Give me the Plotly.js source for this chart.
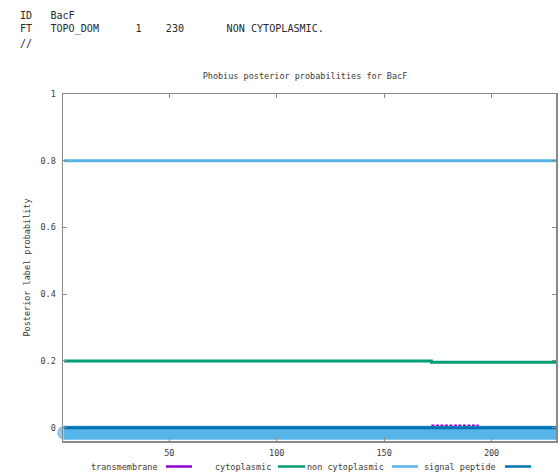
<!DOCTYPE html>
<html><head><meta charset="utf-8">
<script src="https://cdn.plot.ly/plotly-3.0.1.min.js"></script>
<style>html,body{margin:0;padding:0;background:#fff}#chart{width:559px;height:475px}</style>
</head><body><div id="chart"></div>
<script>
// ---- data ----
const seqName = "BacF";
const headerLines = [
  "ID   BacF",
  "FT   TOPO_DOM      1    230       NON CYTOPLASMIC.",
  "//"
];
const residueStart = 1, residueEnd = 230;
const tmX = [172, 194];          const tmY = [0.007, 0.007];
const cytoX = [1, 172, 230];     const cytoY = [0.2, 0.196, 0.196];
const nonCytoX = [1, 230];       const nonCytoY = [0.8, 0.8];
const sigX = [1, 230];           const sigY = [0, 0];
const topoX = [1, 230];          const topoY = [-0.015, -0.015];
const legendNames = ["transmembrane", "cytoplasmic", "non cytoplasmic", "signal peptide"];
const yTickVals = [0, 0.2, 0.4, 0.6, 0.8, 1];
const xTickVals = [50, 100, 150, 200];

// ---- styles ----
const C = {tm:"#9400d3", cyto:"#009e73", nc:"#56b4e9", sig:"#0072b2"};
const MONO = "DejaVu Sans Mono";
const axisCol = "#8a8a8a", txtCol = "#3a3a3a";

// plot area in px
const L = 63, R = 556, T = 94, B = 441;
const px = x => (x - L) / (R - L);
const py = y => (B - y) / (B - T);

const traces = [
  {x: nonCytoX, y: nonCytoY, mode: "lines", line: {color: C.nc, width: 3}, name: legendNames[2], showlegend: false},
  {x: cytoX, y: cytoY, mode: "lines", line: {color: C.cyto, width: 3, shape: "hv"}, name: legendNames[1], showlegend: false},
  {x: topoX, y: topoY, mode: "lines+markers", cliponaxis: false,
   marker: {size: [14, 0], color: C.nc, line: {width: 0}},
   line: {color: C.nc, width: 14}, name: "topology", showlegend: false, hoverinfo: "skip"},
  {x: sigX, y: sigY, mode: "lines", line: {color: C.sig, width: 3}, name: legendNames[3], showlegend: false},
  {x: tmX, y: tmY, mode: "lines", line: {color: C.tm, width: 1.5, dash: "3px,1.5px"}, name: legendNames[0], showlegend: false}
];

// header + legend annotations
const ann = [];
headerLines.forEach((s, i) => {
  ann.push({xref: "paper", yref: "paper", x: px(18), y: py(15 + i * 14), xanchor: "left", yanchor: "middle",
    text: s.replace(/ /g, "\u00a0"), showarrow: false, font: {family: MONO, size: 10.1, color: "#2a2a2a"}});
});
const legTextEnd = [160, 273, 386, 498];
const legLine = [[166, 192], [278, 305], [392, 418], [505, 531]];
const legCols = [C.tm, C.cyto, C.nc, C.sig];
const legY = 466.5;
const shapes = [];
legendNames.forEach((n, i) => {
  ann.push({xref: "paper", yref: "paper", x: px(legTextEnd[i]), y: py(legY), xanchor: "right", yanchor: "middle",
    text: n, showarrow: false, font: {family: MONO, size: 8.5, color: txtCol}});
  shapes.push({type: "line", xref: "paper", yref: "paper", x0: px(legLine[i][0]), x1: px(legLine[i][1]),
    y0: py(legY), y1: py(legY), line: {color: legCols[i], width: 2.5}});
});

const layout = {
  width: 559, height: 475,
  margin: {l: L, r: 559 - R, t: T, b: 475 - B, pad: 0},
  paper_bgcolor: "#fff", plot_bgcolor: "#fff",
  showlegend: false,
  title: {text: "Phobius posterior probabilities for " + seqName, xref: "paper", x: px(305), xanchor: "center",
    yref: "container", y: 1 - 76 / 475, yanchor: "middle", font: {family: MONO, size: 8.5, color: txtCol}},
  xaxis: {range: [residueStart - 0.5, residueEnd], tickvals: xTickVals, ticks: "inside", ticklen: 4, tickcolor: axisCol,
    showline: true, linecolor: axisCol, linewidth: 1.5, mirror: "allticks", showgrid: false, zeroline: false,
    tickfont: {family: MONO, size: 8.5, color: txtCol}, ticklabelstandoff: 3},
  yaxis: {range: [-0.04, 1], tickvals: yTickVals, ticks: "inside", ticklen: 4, tickcolor: axisCol,
    showline: true, linecolor: axisCol, linewidth: 1.5, mirror: "allticks", showgrid: false, zeroline: false,
    tickfont: {family: MONO, size: 8.5, color: txtCol}, ticklabelstandoff: 4,
    title: {text: "Posterior label probability", font: {family: MONO, size: 8.5, color: txtCol}, standoff: 8}},
  annotations: ann,
  shapes: shapes
};
Plotly.newPlot("chart", traces, layout, {displayModeBar: false, staticPlot: true});
</script></body></html>
